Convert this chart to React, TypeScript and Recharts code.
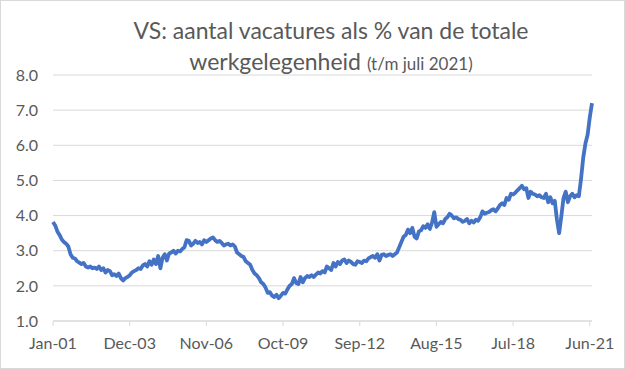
import { LineChart, Line, XAxis, YAxis, CartesianGrid } from "recharts";

// job openings as % of total employment, monthly, Jan 2001 - Jul 2021
const y2001 = [3.82, 3.72, 3.55, 3.45, 3.32, 3.25, 3.2, 3.12, 2.9, 2.8, 2.78, 2.7];
const y2002 = [2.66, 2.62, 2.65, 2.55, 2.52, 2.55, 2.5, 2.52, 2.48, 2.55, 2.45, 2.5];
const y2003 = [2.38, 2.45, 2.42, 2.3, 2.33, 2.28, 2.35, 2.22, 2.15, 2.22, 2.25, 2.3];
const y2004 = [2.38, 2.42, 2.45, 2.5, 2.48, 2.58, 2.62, 2.55, 2.7, 2.6, 2.75, 2.62];
const y2005 = [2.85, 2.5, 2.8, 2.9, 2.72, 2.92, 2.95, 3.0, 2.92, 3.0, 2.98, 3.05];
const y2006 = [3.1, 3.3, 3.28, 3.15, 3.2, 3.28, 3.22, 3.25, 3.18, 3.3, 3.25, 3.3];
const y2007 = [3.35, 3.38, 3.3, 3.25, 3.28, 3.22, 3.15, 3.18, 3.2, 3.15, 3.18, 3.12];
const y2008 = [2.95, 2.9, 2.85, 2.82, 2.7, 2.65, 2.6, 2.45, 2.35, 2.3, 2.22, 2.1];
const y2009 = [2.05, 1.95, 1.8, 1.82, 1.72, 1.68, 1.75, 1.65, 1.72, 1.8, 1.78, 1.9];
const y2010 = [2.0, 2.05, 2.22, 2.08, 2.05, 2.25, 2.1, 2.22, 2.28, 2.25, 2.3, 2.25];
const y2011 = [2.32, 2.38, 2.35, 2.42, 2.38, 2.55, 2.5, 2.45, 2.65, 2.55, 2.68, 2.62];
const y2012 = [2.72, 2.75, 2.65, 2.72, 2.68, 2.62, 2.6, 2.7, 2.68, 2.65, 2.72, 2.7];
const y2013 = [2.78, 2.82, 2.85, 2.8, 2.9, 2.72, 2.88, 2.9, 2.85, 2.88, 2.9, 2.85];
const y2014 = [2.9, 2.95, 3.1, 3.25, 3.4, 3.45, 3.6, 3.5, 3.65, 3.4, 3.35, 3.55];
const y2015 = [3.58, 3.7, 3.65, 3.75, 3.62, 3.8, 4.1, 3.68, 3.75, 3.82, 3.78, 3.9];
const y2016 = [3.95, 4.05, 4.0, 3.92, 3.95, 3.9, 3.88, 3.82, 3.85, 3.9, 3.78, 3.85];
const y2017 = [3.8, 3.88, 3.85, 3.95, 4.12, 4.05, 4.08, 4.1, 4.15, 4.18, 4.12, 4.2];
const y2018 = [4.3, 4.35, 4.3, 4.5, 4.45, 4.62, 4.6, 4.65, 4.72, 4.78, 4.85, 4.75];
const y2019 = [4.78, 4.5, 4.68, 4.62, 4.6, 4.55, 4.58, 4.52, 4.5, 4.62, 4.38, 4.52];
const y2020 = [4.35, 4.42, 3.88, 3.5, 3.98, 4.5, 4.68, 4.38, 4.55, 4.62, 4.52, 4.58];
const y2021 = [4.55, 5.05, 5.65, 6.05, 6.3, 6.8, 7.2];

const years = [
  y2001, y2002, y2003, y2004, y2005, y2006, y2007, y2008, y2009, y2010, y2011,
  y2012, y2013, y2014, y2015, y2016, y2017, y2018, y2019, y2020, y2021,
];

const monthNames = ["Jan", "Feb", "Mar", "Apr", "May", "Jun", "Jul", "Aug", "Sep", "Oct", "Nov", "Dec"];

// x-axis labels every 35 months
const tickIdx = [0, 35, 70, 105, 140, 175, 210, 245];
const tickLabels = ["Jan-01", "Dec-03", "Nov-06", "Oct-09", "Sep-12", "Aug-15", "Jul-18", "Jun-21"];

const yTicks = [1, 2, 3, 4, 5, 6, 7, 8];

const data = years.flatMap((vals, yi) =>
  vals.map((v, mi) => ({
    idx: yi * 12 + mi,
    month: `${monthNames[mi]}-${String(1 + yi).padStart(2, "0")}`,
    value: v,
  }))
);

const grey = "#595959";
const font = "Lato, 'Open Sans', sans-serif";

export default function App() {
  return (
    <div
      style={{
        position: "relative",
        width: 625,
        height: 369,
        background: "#fff",
        fontFamily: font,
        boxSizing: "border-box",
        border: "1px solid #d9d9d9",
      }}
    >
      <style>{`body{margin:0}`}</style>
      <div
        style={{
          position: "absolute",
          left: 35,
          top: 14,
          width: 590,
          textAlign: "center",
          color: grey,
          fontSize: 23,
          lineHeight: "31px",
        }}
      >
        <div>VS: aantal vacatures als % van de totale</div>
        <div>
          werkgelegenheid <span style={{ fontSize: 17 }}>(t/m juli 2021)</span>
        </div>
      </div>
      <div style={{ position: "absolute", left: -1, top: -1 }}>
        <LineChart
          width={625}
          height={369}
          data={data}
          margin={{ top: 75, right: 33, left: 0, bottom: 0 }}
        >
          <CartesianGrid vertical={false} stroke="#d9d9d9" strokeWidth={1} />
          <XAxis
            type="number"
            dataKey="idx"
            domain={[0, 246]}
            ticks={tickIdx}
            tickFormatter={(v: number) => tickLabels[tickIdx.indexOf(v)] ?? ""}
            interval={0}
            height={48}
            stroke="#d9d9d9"
            tickSize={5}
            tickMargin={12}
            tick={{ fill: grey, fontSize: 16, fontFamily: font }}
          />
          <YAxis
            domain={[1, 8]}
            ticks={yTicks}
            tickFormatter={(v: number) => v.toFixed(1)}
            width={53}
            axisLine={false}
            tickLine={false}
            tickSize={0}
            tickMargin={15}
            tick={{ fill: grey, fontSize: 16, fontFamily: font }}
          />
          <Line
            type="linear"
            dataKey="value"
            stroke="#4472C4"
            strokeWidth={3.8}
            strokeLinejoin="round"
            dot={false}
            isAnimationActive={false}
          />
        </LineChart>
      </div>
    </div>
  );
}
